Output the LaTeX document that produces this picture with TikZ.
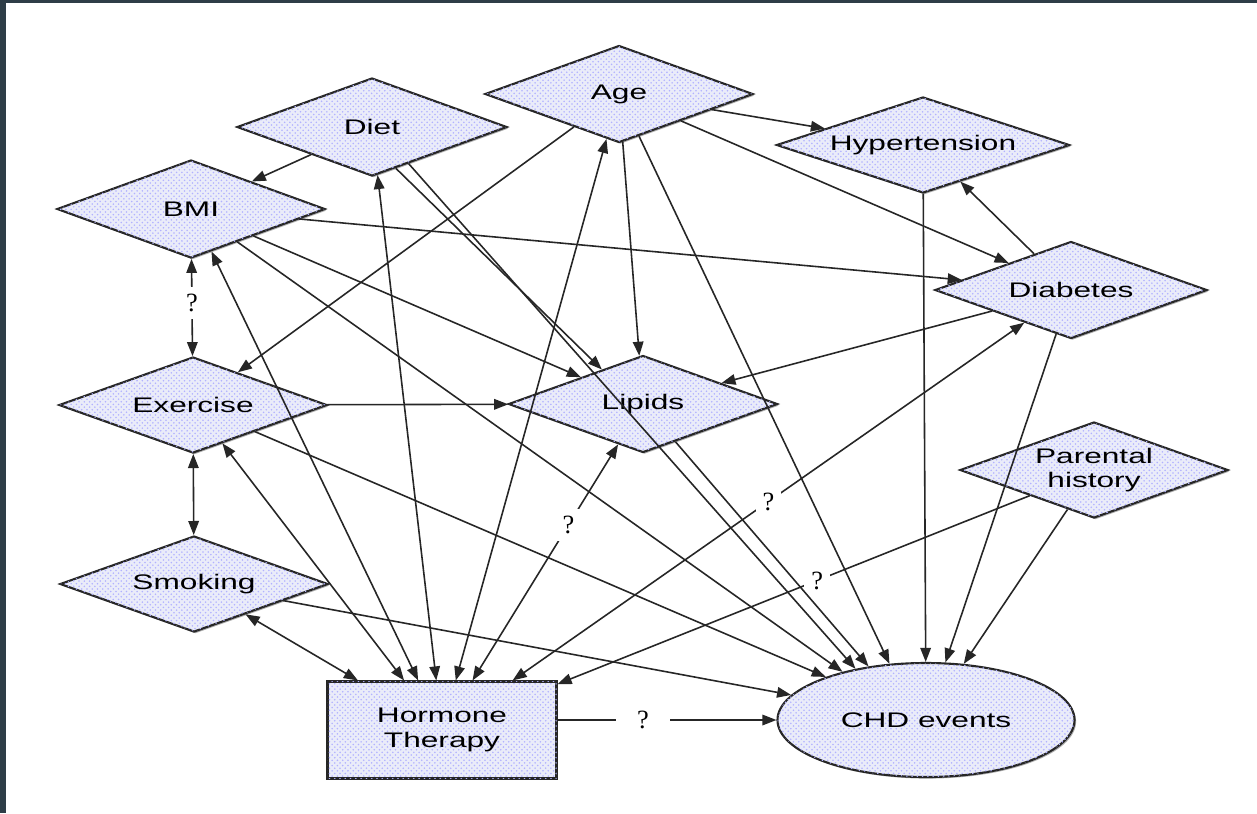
\documentclass[tikz,border=0pt]{standalone}
\usepackage{fontspec}
\setmainfont{Liberation Sans}
\newfontfamily\qfont{Liberation Serif}
\usepackage{graphicx}
\usepackage{xcolor}
\usepackage{tikz}
\usetikzlibrary{shapes.geometric,arrows.meta,shadows,patterns}

\definecolor{stipple}{RGB}{234,236,249}
\definecolor{frame}{RGB}{46,61,71}
\newcommand{\lbl}[1]{\scalebox{1.5}[1]{#1}}

\begin{document}
\begin{tikzpicture}[x=0.2mm, y=-0.2mm, >={Triangle[length=8pt,width=6pt]},
    factor/.style={diamond, aspect=2.8, draw=black!85, line width=1.2pt, fill=stipple,
        inner sep=1pt, minimum width=5.36cm, minimum height=1.94cm, align=center,
        font=\fontsize{12}{14}\selectfont,
        drop shadow={shadow xshift=0.9pt, shadow yshift=-0.9pt, fill=black!55, opacity=0.6},
        postaction={pattern=crosshatch dots, pattern color=blue!30}},
    treat/.style={factor, rectangle},
    outcome/.style={factor, ellipse},
    link/.style={draw=black!85, line width=0.9pt},
    qmark/.style={fill=white, inner sep=4pt, font=\qfont\fontsize{15}{17}\selectfont}]

    % page and scan frame
    \useasboundingbox (0,0) rectangle (1257,813);
    \fill[white] (0,0) rectangle (1257,813);
    \fill[frame] (0,0) rectangle (6,813);
    \fill[frame] (0,0) rectangle (1257,3);

    \node (Diet) at (372,127) [factor, minimum width=5.4cm, minimum height=1.96cm] {\lbl{Diet}};
    \node (Age) at (619,94) [factor] {\lbl{Age}};
    \node (Hyp) at (923,145) [factor, minimum width=5.86cm, minimum height=1.92cm] {\lbl{Hypertension}};
    \node (BMI) at (191,209) [factor, minimum height=1.96cm] {\lbl{BMI}};
    \node (Diab) at (1071,290) [factor, minimum width=5.44cm] {\lbl{Diabetes}};
    \node (Ex) at (193,405) [factor, minimum height=1.92cm] {\lbl{Exercise}};
    \node (Lip) at (643,404) [factor, minimum width=5.38cm] {\lbl{Lipids}};
    \node (Par) at (1094,470) [factor, minimum height=1.92cm] {\lbl{Parental}\\\lbl{history}};
    \node (Smk) at (194,584) [factor, minimum height=1.92cm] {\lbl{Smoking}};
    \node (HT) at (442,730) [treat, minimum width=4.58cm, minimum height=1.94cm] {\lbl{Hormone}\\\lbl{Therapy}};
    \node (CHD) at (926,720) [outcome, minimum width=5.94cm, minimum height=2.28cm] {\lbl{CHD events}};

    % uncertain links
    \draw[link, <->] (BMI) -- node[qmark, pos=0.45] {?} (Ex);
    \draw[link, <->] (Lip) -- node[qmark, pos=0.34] {?} (HT);
    \draw[link, <->] (Diab) -- node[qmark, pos=0.5] {?} (HT);
    \draw[link, ->] (Par) -- node[qmark, pos=0.45] {?} (HT);
    \draw[link, ->] (HT.east |- CHD.west) -- node[qmark, pos=0.39, inner xsep=12pt] {?} (CHD.west);

    \draw[link, ->] (Diet) -- (BMI);
    \draw[link, <->] (Diet) -- (HT);
    \draw[link, ->] (Diet.-60) -- (Lip.140);
    \draw[link, ->] (Diet.-45) -- (CHD.144);

    \draw[link, ->] (Age) -- (Ex);
    \draw[link, ->] (Age) -- (Hyp);
    \draw[link, ->] (Age) -- (Diab);
    \draw[link, ->] (Age) -- (Lip);
    \draw[link, <->] (Age) -- (HT);
    \draw[link, ->] (Age) -- (CHD.123);

    \draw[link, ->] (BMI) -- (Diab);
    \draw[link, ->] (BMI) -- (Lip);
    \draw[link, <->] (BMI) -- (HT);
    \draw[link, ->] (BMI) -- (CHD.150);

    \draw[link, ->] (Ex) -- (Lip);
    \draw[link, <->] (Ex) -- (Smk);
    \draw[link, <->] (Ex) -- (HT);
    \draw[link, ->] (Ex) -- (CHD);

    \draw[link, <->] (Smk) -- (HT);
    \draw[link, ->] (Smk) -- (CHD);
    \draw[link, ->] (Lip) -- (CHD.137);

    \draw[link, ->] (Diab) -- (Hyp);
    \draw[link, ->] (Diab) -- (Lip);
    \draw[link, ->] (Diab) -- (CHD);
    \draw[link, ->] (Hyp) -- (CHD);
    \draw[link, ->] (Par) -- (CHD);
\end{tikzpicture}
\end{document}
